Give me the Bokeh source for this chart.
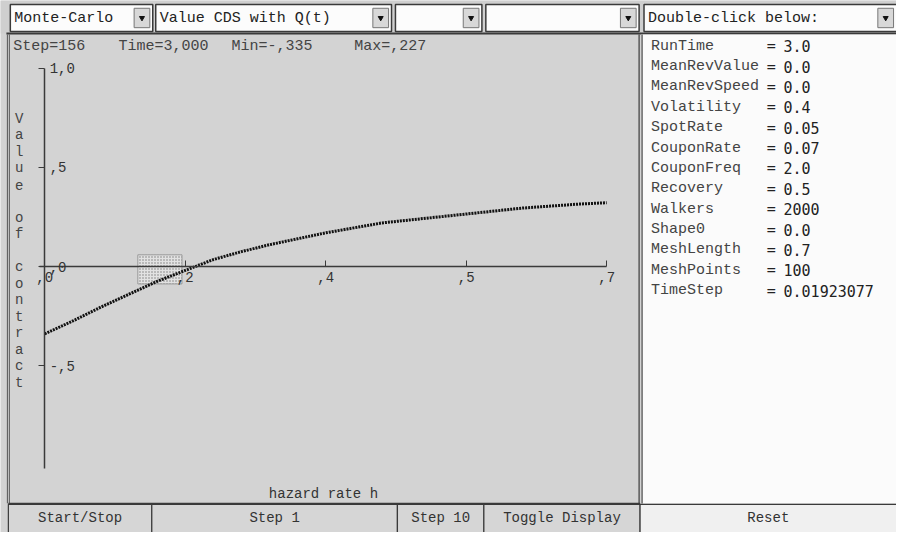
from bokeh.plotting import figure
from bokeh.models import Range1d, LinearAxis, FixedTicker
from bokeh.embed import file_html
from bokeh.resources import INLINE
from bokeh.core.properties import value

# ---------------- data ----------------
hazard_rate = [0.0, 0.035, 0.07, 0.105, 0.14, 0.175, 0.21, 0.245, 0.28, 0.315, 0.35,
               0.385, 0.42, 0.455, 0.49, 0.525, 0.56, 0.595, 0.63, 0.665, 0.7]
contract_value = [-0.34, -0.275, -0.205, -0.14, -0.075, -0.02, 0.035, 0.075, 0.11, 0.14, 0.17,
                  0.195, 0.22, 0.235, 0.25, 0.265, 0.28, 0.295, 0.305, 0.315, 0.322]
x_tick_values = [0.0, 0.175, 0.35, 0.525, 0.7]
x_tick_labels = [",0", ",2", ",4", ",5", ",7"]
y_tick_values = [-0.5, 0.0, 0.5, 1.0]
y_tick_labels = ["-,5", ",0", ",5", "1,0"]
marker_box_h = [0.116, 0.171]
marker_box_v = [-0.088, 0.059]

status_items = ["Step=156", "Time=3,000", "Min=-,335", "Max=,227"]
menu_items = ["Monte-Carlo", "Value CDS with Q(t)", "", "", "Double-click below:"]
param_names = ["RunTime", "MeanRevValue", "MeanRevSpeed", "Volatility", "SpotRate",
               "CouponRate", "CouponFreq", "Recovery", "Walkers", "Shape0",
               "MeshLength", "MeshPoints", "TimeStep"]
param_values = ["3.0", "0.0", "0.0", "0.4", "0.05", "0.07", "2.0", "0.5", "2000",
                "0.0", "0.7", "100", "0.01923077"]
button_labels = ["Start/Stop", "Step 1", "Step 10", "Toggle Display", "Reset"]
x_axis_title = "hazard rate  h"
y_axis_title = "Value of contract"

# ---------------- layout constants (reference pixel space 912 x 548) ----------------
W, H = 896, 532
RW, RH = 912, 548
FONT = value("Liberation Mono")
FONT2 = value("DejaVu Sans Mono")
GRAY = "#d3d3d3"
DARK = "#3a3a3a"

p = figure(width=W, height=H, output_backend="svg", toolbar_location=None,
           x_range=Range1d(0, RW), y_range=Range1d(RH, 0),
           x_axis_type=None, y_axis_type=None, min_border=0,
           outline_line_color=None, background_fill_color=GRAY,
           border_fill_color=GRAY)

# data ranges mapped onto the canvas: h=0 at x=45, h=0.7 at x=617; v=0 at y=274, v=1 at y=70
h0_px, h_scale = 45.0, (617.0 - 45.0) / 0.7
v0_px, v_scale = 274.0, 204.0
p.extra_x_ranges = {"h": Range1d((0 - h0_px) / h_scale, (RW - h0_px) / h_scale)}
p.extra_y_ranges = {"v": Range1d((v0_px - RH) / v_scale, (v0_px - 0) / v_scale)}

# ---------------- chrome ----------------
# top bar
p.quad(left=[0], right=[RW], top=[0], bottom=[34], fill_color="#cfcfcf", line_color=None)
menu_boxes = [(10, 155), (158, 398), (402, 490), (494, 650), (655, 925)]
for (l, r), txt in zip(menu_boxes, menu_items):
    p.quad(left=[l], right=[r], top=[4], bottom=[32], fill_color="#fcfcfc",
           line_color=DARK, line_width=1.5)
    rr = min(r, RW)
    p.quad(left=[rr - 19], right=[rr - 3], top=[8], bottom=[28], fill_color="#d8d8d8",
           line_color="#777", line_width=1)
    p.scatter(x=[rr - 11], y=[18], marker="inverted_triangle", size=5,
              fill_color="#111", line_color="#111")
    if txt:
        p.text(x=[l + 4], y=[19], text=[txt], text_font=FONT, text_font_size="15px",
               text_baseline="middle", text_color="#222")
p.segment(x0=[6], y0=[34], x1=[RW], y1=[34], line_color=DARK, line_width=2)

# left plot panel border
p.segment(x0=[7, 9], y0=[35, 35], x1=[7, 9], y1=[518, 518], line_color="#555", line_width=1)

# right panel
p.quad(left=[652], right=[RW], top=[35], bottom=[518], fill_color="#fbfbfb", line_color=None)
p.segment(x0=[650, 653], y0=[35, 35], x1=[650, 653], y1=[518, 518], line_color=DARK, line_width=1.2)
rows_y = [47 + 21 * i for i in range(len(param_names))]
p.text(x=[662] * len(param_names), y=rows_y, text=param_names, text_font=FONT,
       text_font_size="15px", text_baseline="middle", text_color="#444")
p.text(x=[780] * len(param_names), y=rows_y, text=["="] * len(param_names), text_font=FONT2,
       text_font_size="15px", text_baseline="middle", text_color="#222")
p.text(x=[797] * len(param_names), y=rows_y, text=param_values, text_font=FONT2,
       text_font_size="15px", text_baseline="middle", text_color="#222")

# status line
p.text(x=[13, 120, 235, 360], y=[47] * 4, text=status_items, text_font=FONT,
       text_font_size="15px", text_baseline="middle", text_color="#444")

# stacked y title
ys = [122 + 17 * i for i in range(len(y_axis_title))]
p.text(x=[19] * len(y_axis_title), y=ys, text=list(y_axis_title), text_font=FONT,
       text_font_size="14px", text_baseline="middle", text_align="center", text_color="#444")

# x title
p.text(x=[333], y=[508], text=[x_axis_title], text_font=FONT, text_font_size="14px",
       text_baseline="middle", text_align="center", text_color="#333")

# buttons
btn_edges = [(8, 154), (154, 404), (404, 492), (492, 651), (651, 925)]
for (l, r), lab in zip(btn_edges, button_labels):
    fill = "#f0f0f0" if lab == "Reset" else "#d6d6d6"
    p.quad(left=[l], right=[r], top=[519], bottom=[552], fill_color=fill,
           line_color=DARK, line_width=1.2)
    p.text(x=[(l + min(r, RW)) / 2], y=[533], text=[lab], text_font=FONT,
           text_font_size="14px", text_baseline="middle", text_align="center", text_color="#333")
p.segment(x0=[8], y0=[518], x1=[651], y1=[518], line_color=DARK, line_width=1.5)

# ---------------- data glyphs ----------------
p.quad(left=[marker_box_h[0]], right=[marker_box_h[1]], bottom=[marker_box_v[0]],
       top=[marker_box_v[1]], x_range_name="h", y_range_name="v",
       fill_color="#e2e2e2", line_color="#9a9a9a", hatch_pattern="dot",
       hatch_color="#7a7a7a", hatch_scale=3, hatch_weight=1)
p.line(hazard_rate, contract_value, x_range_name="h", y_range_name="v",
       line_color="#111111", line_width=3, line_dash="2 1")

xaxis = LinearAxis(x_range_name="h", y_range_name="v", fixed_location=0,
                   ticker=FixedTicker(ticks=x_tick_values),
                   major_label_overrides=dict(zip(x_tick_values, x_tick_labels)))
yaxis = LinearAxis(x_range_name="h", y_range_name="v", fixed_location=0,
                   ticker=FixedTicker(ticks=y_tick_values),
                   major_label_overrides=dict(zip(y_tick_values, y_tick_labels)))
xaxis.bounds = (-0.006, 0.7)
yaxis.bounds = (-1.02, 1.0)
for ax in (xaxis, yaxis):
    ax.axis_line_color = DARK
    ax.axis_line_width = 1.5
    ax.major_tick_line_color = DARK
    ax.major_tick_in = 6
    ax.major_tick_out = 0
    ax.minor_tick_in = 0
    ax.minor_tick_out = 0
    ax.major_label_text_font = "Liberation Mono"
    ax.major_label_text_font_size = "14px"
    ax.major_label_text_color = "#333"
    ax.major_label_standoff = 5
xaxis.major_label_text_align = "right"
p.add_layout(xaxis, "below")
p.add_layout(yaxis, "right")

open("out.html", "w").write(file_html(p, INLINE))
